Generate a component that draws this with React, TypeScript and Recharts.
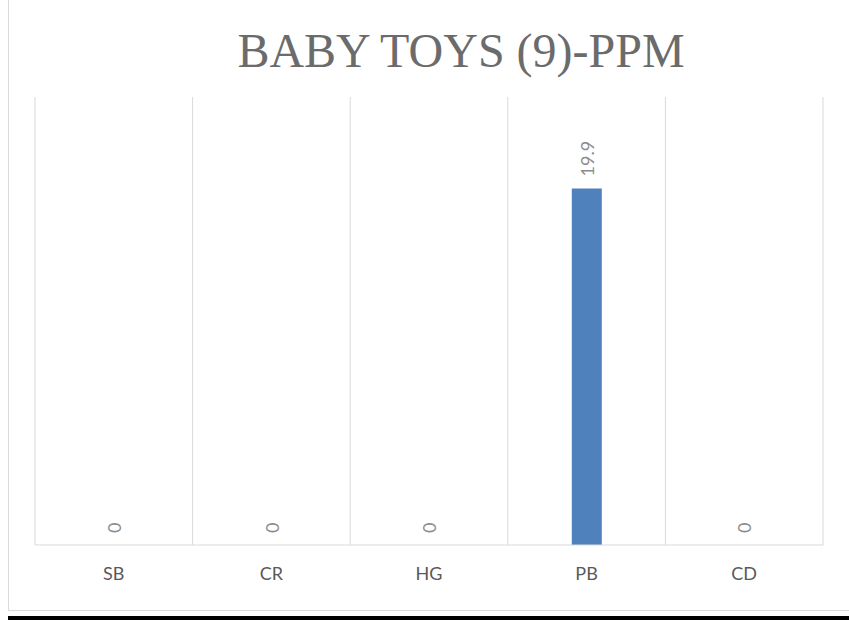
import { BarChart, Bar, XAxis, YAxis, CartesianGrid, Rectangle } from "recharts";

const elements = ["SB", "CR", "HG", "PB", "CD"];
const ppm = [0, 0, 0, 19.9, 0];

const data = elements.map((name, i) => ({ name, value: ppm[i] }));

const W = 849;
const H = 620;

// bar + rotated value label (zero bars still get their "0")
function BarWithLabel(props: any) {
  const { x, y, width, height, value, fill } = props;
  const cx = Number(x) + Number(width) / 2;
  const cy = Number(y) - 12;
  const v = Array.isArray(value) ? value[1] - value[0] : value;
  return (
    <g>
      {height > 0 && <Rectangle x={x} y={y} width={width} height={height} fill={fill} />}
      <text
        x={cx}
        y={cy}
        transform={`rotate(-90, ${cx}, ${cy})`}
        textAnchor="start"
        dominantBaseline="central"
        fontSize={18}
        fill="#8c8c8c"
        fontFamily="Lato, 'Open Sans', sans-serif"
      >
        {v}
      </text>
    </g>
  );
}

function App() {
  return (
    <div style={{ position: "absolute", left: 0, top: 0, width: W, height: H, background: "#fff", overflow: "hidden" }}>
      <div
        style={{
          position: "absolute",
          left: 8,
          top: 0,
          width: W - 8,
          height: 611,
          borderLeft: "1px solid #d9d9d9",
          borderBottom: "1px solid #d9d9d9",
          boxSizing: "border-box",
        }}
      />
      <div style={{ position: "absolute", left: 8, top: 616, width: W - 8, height: 4, background: "#000" }} />
      <div
        style={{
          position: "absolute",
          left: 0,
          top: 23,
          width: 922,
          textAlign: "center",
          fontFamily: "'Liberation Serif', 'Times New Roman', serif",
          fontSize: 48,
          color: "#6b6b6b",
          lineHeight: "56px",
        }}
      >
        BABY TOYS (9)-PPM
      </div>
      <div style={{ position: "absolute", left: 0, top: 0 }}>
        <BarChart width={W} height={H} data={data} margin={{ top: 97, right: 26, left: 35, bottom: 45 }}>
          <CartesianGrid
            horizontal={false}
            stroke="#d9d9d9"
            verticalCoordinatesGenerator={({ offset }: any) =>
              elements.map((_, i) => offset.left + (i * offset.width) / elements.length).concat(offset.left + offset.width)
            }
          />
          <XAxis
            dataKey="name"
            height={30}
            axisLine={{ stroke: "#d9d9d9" }}
            tickLine={false}
            tickMargin={16}
            tick={{ fill: "#595959", fontSize: 18, fontFamily: "Lato, 'Open Sans', sans-serif" }}
          />
          <YAxis hide domain={[0, 25]} />
          <Bar dataKey="value" fill="#4f81bd" barSize={30} isAnimationActive={false} shape={<BarWithLabel />} />
        </BarChart>
      </div>
    </div>
  );
}

export default App;
